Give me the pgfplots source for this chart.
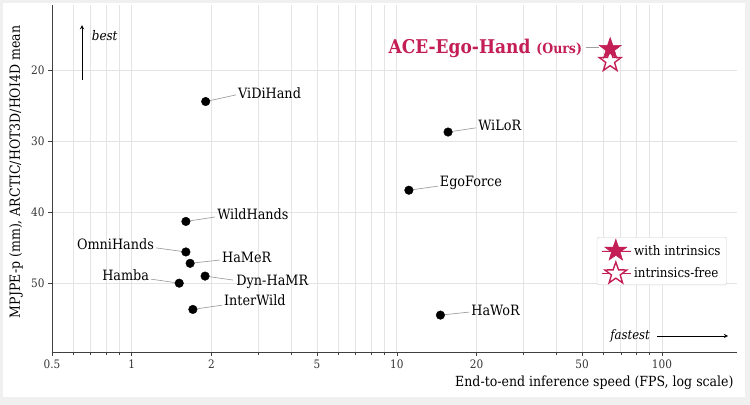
\documentclass[border=0pt]{standalone}
\usepackage{fontspec}
\setmainfont{DejaVu Serif Condensed}
\usepackage{pgfplots}
\pgfplotsset{compat=1.18}
\definecolor{ours}{RGB}{196,30,86}
\definecolor{lead}{RGB}{160,160,160}
\definecolor{gridc}{RGB}{228,228,228}
\definecolor{frame}{RGB}{240,240,240}

% filled five-pointed star
\pgfdeclareplotmark{fivestar}{%
  \pgfpathmoveto{\pgfpointpolar{90}{\pgfplotmarksize}}%
  \pgfpathlineto{\pgfpointpolar{126}{0.40\pgfplotmarksize}}%
  \pgfpathlineto{\pgfpointpolar{162}{\pgfplotmarksize}}%
  \pgfpathlineto{\pgfpointpolar{198}{0.40\pgfplotmarksize}}%
  \pgfpathlineto{\pgfpointpolar{234}{\pgfplotmarksize}}%
  \pgfpathlineto{\pgfpointpolar{270}{0.40\pgfplotmarksize}}%
  \pgfpathlineto{\pgfpointpolar{306}{\pgfplotmarksize}}%
  \pgfpathlineto{\pgfpointpolar{342}{0.40\pgfplotmarksize}}%
  \pgfpathlineto{\pgfpointpolar{18}{\pgfplotmarksize}}%
  \pgfpathlineto{\pgfpointpolar{54}{0.40\pgfplotmarksize}}%
  \pgfpathclose
  \pgfusepathqfillstroke
}

\newcommand{\lbl}{\fontsize{14.3}{16}\selectfont}

\begin{document}
\begin{tikzpicture}
\useasboundingbox (-52bp,-53bp) rectangle (698bp,352bp);
\fill[frame] (-52bp,-53bp) rectangle (698bp,352bp);
\fill[white] (-49bp,-45bp) rectangle (693bp,349bp);
\begin{axis}[
  scale only axis, width=685bp, height=347bp,
  xmode=log, xmin=0.5, xmax=192,
  ymin=10.8, ymax=59.7, y dir=reverse,
  axis x line*=bottom, axis y line*=left,
  axis line style={-, draw=black!75, line width=0.9pt},
  xtick={0.5,1,2,5,10,20,50,100},
  xticklabels={0.5,1,2,5,10,20,50,100},
  minor xtick={0.6,0.7,0.8,0.9,3,4,6,7,8,9,30,40,60,70,80,90},
  ytick={20,30,40,50},
  tick align=outside,
  major tick length=4bp, minor tick length=2.5bp,
  tick style={black!75, line width=0.7pt},
  xmajorgrids, xminorgrids, ymajorgrids,
  major grid style={gridc, line width=0.8pt},
  minor grid style={gridc, line width=0.8pt},
  /pgf/number format/assume math mode=true,
  ticklabel style={font=\fontsize{11.7}{13}\selectfont, text=black!80},
  xlabel={End-to-end inference speed (FPS, log scale)},
  ylabel={MPJPE-p (mm), ARCTIC/HOT3D/HOI4D mean},
  xlabel style={at={(axis description cs:1,-0.089)}, anchor=east, font=\fontsize{14}{16}\selectfont},
  ylabel style={at={(axis description cs:-0.0526,0.519)}, anchor=center, font=\fontsize{14}{16}\selectfont},
  starlegend/.style={legend image code/.code={%
    \path (-0.1cm,0cm) -- (0.95cm,0cm);
    \draw[mark repeat=2, mark phase=2, ##1] plot coordinates {(0cm,0cm) (0.4cm,0cm) (0.95cm,0cm)};}},
  legend style={at={(axis description cs:0.985,0.193)}, anchor=south east,
    draw=black!20, rounded corners=2pt, fill=white,
    font=\fontsize{13.3}{15}\selectfont, row sep=2pt, inner xsep=4pt, inner ysep=2pt},
  legend cell align=left,
  clip=false,
]
% baselines
\addplot[only marks, mark=*, mark size=4.3bp, black, forget plot] coordinates {
  (1.90,24.4) (15.6,28.7) (11.1,36.9) (1.60,41.3) (1.60,45.6)
  (1.66,47.2) (1.89,49.0) (1.51,50.0) (1.70,53.7) (14.6,54.5)
};
% ours
\addplot[only marks, mark=fivestar, mark size=11.5bp, draw=ours, fill=white, line width=1.4pt, forget plot] coordinates {(63.8,18.7)};
\addplot[only marks, starlegend, mark=fivestar, mark size=11.5bp, draw=ours, fill=ours, line width=0.5pt] coordinates {(63.8,17.0)};
\addlegendentry{with intrinsics}
\addplot[only marks, starlegend, mark=fivestar, mark size=11.5bp, draw=ours, fill=white, line width=1.4pt] coordinates {(63.8,-100)};
\addlegendentry{intrinsics-free}

% leader lines
\draw[lead, line width=0.7pt] (axis cs:1.90,24.4) -- (axis description cs:0.2686,0.741);
\draw[lead, line width=0.7pt] (axis cs:15.6,28.7) -- (axis description cs:0.619,0.646);
\draw[lead, line width=0.7pt] (axis cs:11.1,36.9) -- (axis description cs:0.5635,0.478);
\draw[lead, line width=0.7pt] (axis cs:1.60,41.3) -- (axis description cs:0.238,0.389);
\draw[lead, line width=0.7pt] (axis cs:1.60,45.6) -- (axis description cs:0.152,0.300);
\draw[lead, line width=0.7pt] (axis cs:1.66,47.2) -- (axis description cs:0.245,0.265);
\draw[lead, line width=0.7pt] (axis cs:1.89,49.0) -- (axis description cs:0.264,0.2075);
\draw[lead, line width=0.7pt] (axis cs:1.51,50.0) -- (axis description cs:0.1445,0.210);
\draw[lead, line width=0.7pt] (axis cs:1.70,53.7) -- (axis description cs:0.248,0.135);
\draw[lead, line width=0.7pt] (axis cs:14.6,54.5) -- (axis description cs:0.609,0.115);
\draw[lead, line width=0.7pt] (axis description cs:0.779,0.879) -- (axis description cs:0.799,0.879);

% labels
\node[anchor=west, font=\lbl, inner sep=0pt] at (axis description cs:0.2715,0.746) {ViDiHand};
\node[anchor=west, font=\lbl, inner sep=0pt] at (axis description cs:0.622,0.654) {WiLoR};
\node[anchor=west, font=\lbl, inner sep=0pt] at (axis description cs:0.566,0.487) {EgoForce};
\node[anchor=west, font=\lbl, inner sep=0pt] at (axis description cs:0.241,0.398) {WildHands};
\node[anchor=east, font=\lbl, inner sep=0pt] at (axis description cs:0.149,0.311) {OmniHands};
\node[anchor=west, font=\lbl, inner sep=0pt] at (axis description cs:0.248,0.274) {HaMeR};
\node[anchor=west, font=\lbl, inner sep=0pt] at (axis description cs:0.269,0.202) {Dyn-HaMR};
\node[anchor=east, font=\lbl, inner sep=0pt] at (axis description cs:0.142,0.222) {Hamba};
\node[anchor=west, font=\lbl, inner sep=0pt] at (axis description cs:0.251,0.150) {InterWild};
\node[anchor=west, font=\lbl, inner sep=0pt] at (axis description cs:0.612,0.121) {HaWoR};
\node[anchor=east, inner sep=0pt, text=ours] at (axis description cs:0.774,0.876)
  {\fontsize{19}{21}\selectfont\bfseries ACE-Ego-Hand \fontsize{14}{16}\selectfont(Ours)};

% direction hints
\draw[-stealth, line width=0.9pt] (axis description cs:0.0438,0.784) -- (axis description cs:0.0438,0.942);
\node[anchor=west, inner sep=0pt, font=\fontsize{13.3}{15}\selectfont\itshape] at (axis description cs:0.058,0.911) {best};
\node[anchor=east, inner sep=0pt, font=\fontsize{13}{15}\selectfont\itshape] at (axis description cs:0.873,0.046) {fastest};
\draw[-stealth, line width=0.9pt] (axis description cs:0.883,0.046) -- (axis description cs:0.987,0.046);
\end{axis}
\end{tikzpicture}
\end{document}
